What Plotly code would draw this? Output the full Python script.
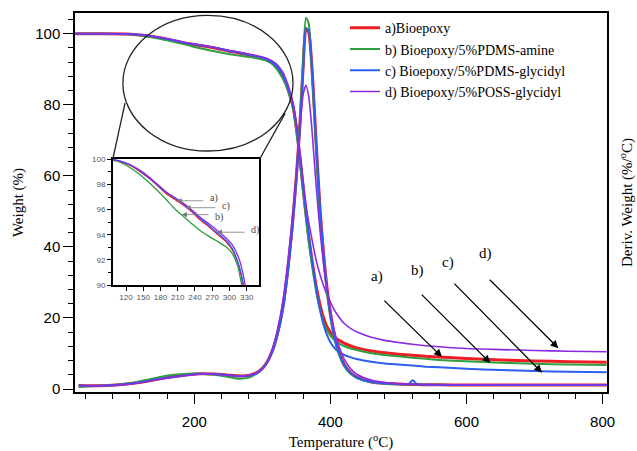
import plotly.graph_objects as go

# ---------------- data ----------------
series_names = ["a)Bioepoxy", "b) Bioepoxy/5%PDMS-amine",
                "c) Bioepoxy/5%PDMS-glycidyl", "d) Bioepoxy/5%POSS-glycidyl"]

temp_tga = [25, 60, 100, 115, 130, 145, 160, 175, 190, 205, 220, 235, 250, 265, 280, 295,
            305, 315, 320, 325, 330, 335, 340, 345, 350, 355, 360,
            364, 368, 372, 376, 380, 385, 390, 395, 400, 405, 410,
            420, 430, 440, 460, 480, 500, 520, 540, 560,
            600, 650, 700, 750, 806]

tga_a = [100.0, 100.0, 99.95, 99.75, 99.45, 99.0, 98.5, 97.9, 97.25, 96.8, 96.35, 95.8, 95.15, 94.6, 94.0, 93.4,
         92.8, 91.7, 90.8, 89.6, 88.0, 85.8, 83.0, 79.5, 73.5, 65.5, 56.5,
         49.5, 43.0, 37.5, 32.5, 28.0, 23.5, 20.0, 17.5, 16.0, 14.8, 14.0,
         12.9, 12.1, 11.5, 10.7, 10.2, 9.8, 9.5, 9.2, 9.0,
         8.6, 8.2, 7.9, 7.7, 7.5]
tga_b = [100.0, 100.0, 99.9, 99.65, 99.25, 98.75, 98.15, 97.5, 96.8, 96.05, 95.45, 94.85, 94.3, 93.85, 93.45, 93.0,
         92.5, 91.4, 90.3, 89.0, 87.4, 85.3, 82.5, 79.0, 72.5, 64.0, 55.0,
         48.0, 41.5, 36.0, 31.0, 26.5, 22.0, 18.8, 16.5, 15.0, 13.9, 13.1,
         12.1, 11.4, 10.9, 10.1, 9.6, 9.2, 8.8, 8.5, 8.2,
         7.8, 7.4, 7.1, 6.9, 6.75]
tga_c = [100.0, 100.0, 99.95, 99.78, 99.5, 99.05, 98.55, 97.95, 97.35, 96.9, 96.45, 95.9, 95.25, 94.7, 94.1, 93.5,
         92.9, 91.8, 91.0, 89.9, 88.4, 86.3, 83.5, 80.0, 74.0, 66.0, 57.0,
         50.0, 43.5, 37.5, 32.0, 27.0, 22.0, 18.0, 15.2, 13.2, 11.8, 10.8,
         9.6, 8.9, 8.4, 7.7, 7.2, 6.9, 6.6, 6.3, 6.1,
         5.7, 5.35, 5.05, 4.85, 4.7]
tga_d = [100.0, 100.0, 99.95, 99.78, 99.5, 99.1, 98.6, 98.0, 97.4, 96.95, 96.5, 95.95, 95.35, 94.85, 94.3, 93.7,
         93.2, 92.3, 91.6, 90.6, 89.2, 87.0, 84.2, 80.5, 74.5, 67.0, 58.5,
         52.0, 47.0, 43.0, 39.0, 35.5, 32.0, 29.0, 26.5, 24.5, 22.5, 21.0,
         18.5, 17.0, 16.0, 14.6, 13.7, 13.1, 12.6, 12.2, 11.9,
         11.4, 11.1, 10.85, 10.65, 10.5]

temp_dtg = [30, 60, 85, 110, 130, 150, 170, 190, 210, 230,
            250, 265, 280, 295, 305, 315, 322, 330, 337, 344,
            350, 355, 360, 364, 368, 372, 376, 380, 385, 390,
            395, 400, 405, 410, 420, 430, 440, 460, 480, 500,
            515, 521, 527, 540, 580, 650, 720, 806]

dtg_a = [1.0, 0.9, 1.1, 1.6, 2.2, 2.9, 3.5, 4.0, 4.3, 4.2,
         3.9, 3.7, 3.8, 5.0, 7.0, 11.0, 15.5, 23.0, 33.0, 46.0,
         60.0, 74.0, 91.0, 101.5, 100.5, 93.0, 80.0, 66.0, 50.0, 38.0,
         28.5, 21.5, 16.0, 12.0, 7.0, 4.5, 3.2, 2.0, 1.6, 1.4,
         1.3, 1.3, 1.25, 1.2, 1.15, 1.1, 1.1, 1.1]
dtg_b = [0.6, 0.9, 1.2, 1.8, 2.6, 3.4, 4.0, 4.3, 4.3, 4.0,
         3.4, 2.9, 3.2, 4.8, 7.0, 11.0, 15.5, 23.0, 33.0, 46.0,
         60.0, 75.0, 93.0, 104.5, 103.0, 92.0, 78.0, 64.0, 48.0, 36.0,
         27.0, 20.0, 15.0, 11.2, 6.5, 4.2, 3.0, 1.9, 1.5, 1.35,
         1.3, 1.3, 1.25, 1.2, 1.15, 1.1, 1.1, 1.1]
dtg_c = [1.0, 0.9, 1.1, 1.6, 2.2, 2.9, 3.4, 3.9, 4.3, 4.2,
         3.9, 3.6, 3.7, 4.8, 6.8, 10.5, 15.0, 22.0, 32.0, 45.0,
         59.0, 73.0, 90.0, 101.5, 101.0, 93.0, 80.0, 66.0, 50.0, 38.0,
         28.0, 21.0, 15.5, 11.5, 6.8, 4.4, 3.1, 2.0, 1.6, 1.4,
         1.4, 2.5, 1.4, 1.2, 1.15, 1.1, 1.1, 1.1]
dtg_d = [1.0, 0.9, 1.1, 1.5, 2.1, 2.8, 3.4, 3.9, 4.3, 4.2,
         3.9, 3.6, 3.8, 5.0, 7.0, 11.5, 16.5, 24.5, 35.0, 48.0,
         61.0, 73.0, 83.0, 85.5, 82.5, 75.0, 65.0, 55.0, 44.0, 35.0,
         28.0, 22.0, 17.0, 13.5, 8.5, 5.6, 4.0, 2.5, 1.8, 1.5,
         1.35, 1.3, 1.3, 1.25, 1.2, 1.15, 1.15, 1.15]

x_tickvals = [200, 400, 600, 800]
y_tickvals = [0, 20, 40, 60, 80, 100]
inset_x_ticks = [120, 150, 180, 210, 240, 270, 300, 330]
inset_y_ticks = [90, 92, 94, 96, 98, 100]

# main-chart arrow labels: (label, text_T, text_W, tail_T, tail_W, head_T, head_W)
main_arrows = [("a)", 469, 28.6, 477, 25.3, 564, 9.0),
               ("b)", 528, 30.3, 532, 27.0, 635, 7.3),
               ("c)", 573, 32.8, 580, 30.1, 711, 4.6),
               ("d)", 628, 35.1, 632, 31.2, 735, 11.5)]
# inset arrow labels
inset_arrows = [("a)", 263, 96.9, 257, 96.7, 208, 96.7),
                ("c)", 283, 96.3, 278, 96.15, 223, 96.15),
                ("b)", 272, 95.4, 266, 95.6, 217, 95.6),
                ("d)", 334, 94.4, 329, 94.2, 278, 94.2)]

colors = ["#ee1c25", "#2e9e3e", "#2c5ff0", "#8a2be2"]
widths = [3.0, 2.0, 2.0, 1.6]

tgas = [tga_a, tga_b, tga_c, tga_d]
dtgs = [dtg_a, dtg_b, dtg_c, dtg_d]

SERIF = "Liberation Serif"
SANS = "Liberation Sans"

fig = go.Figure()

for i in range(4):
    fig.add_trace(go.Scatter(x=temp_tga, y=tgas[i], mode="lines", name=series_names[i],
                             line=dict(color=colors[i], width=widths[i], shape="spline", smoothing=0.6),
                             legendgroup=str(i), showlegend=True, xaxis="x", yaxis="y"))
for i in range(4):
    fig.add_trace(go.Scatter(x=temp_dtg, y=dtgs[i], mode="lines", name=series_names[i],
                             line=dict(color=colors[i], width=widths[i], shape="spline", smoothing=0.6),
                             legendgroup=str(i), showlegend=False, xaxis="x", yaxis="y2"))
# inset
for i in range(4):
    fig.add_trace(go.Scatter(x=temp_tga, y=tgas[i], mode="lines", name=series_names[i],
                             line=dict(color=colors[i], width=1.3, shape="spline", smoothing=0.6),
                             legendgroup=str(i), showlegend=False, xaxis="x2", yaxis="y3"))

YR = [-0.84, 105.85]
XR = [24.6, 806.5]

fig.update_layout(
    width=637, height=451,
    margin=dict(l=75, r=30, t=13, b=59),
    paper_bgcolor="white", plot_bgcolor="white",
    font=dict(family=SANS, color="black"),
    showlegend=True,
    legend=dict(x=0.5075, y=1.002, xanchor="left", yanchor="top",
                font=dict(family=SERIF, size=14, color="black"),
                bgcolor="rgba(0,0,0,0)", tracegroupgap=0, itemwidth=30),
    xaxis=dict(range=XR, domain=[0, 1], anchor="y", tickvals=x_tickvals, automargin=False,
               showline=True, linecolor="black", linewidth=1.5, mirror=True,
               ticks="outside", ticklen=10, tickwidth=1.2, tickcolor="black",
               minor=dict(dtick=40, tick0=0, ticks="outside", ticklen=5, tickwidth=1.2, tickcolor="black", showgrid=False),
               showgrid=False, zeroline=False, ticklabelstandoff=5,
               tickfont=dict(family=SANS, size=15, color="black"),
               title=dict(text="Temperature (<sup>o</sup>C)", font=dict(family=SERIF, size=15, color="black"), standoff=8)),
    yaxis=dict(range=YR, domain=[0, 1], anchor="x", tickvals=y_tickvals, automargin=False,
               showline=True, linecolor="black", linewidth=1.5, mirror=True,
               ticks="outside", ticklen=10, tickwidth=1.2, tickcolor="black",
               minor=dict(dtick=4, tick0=0, ticks="outside", ticklen=5, tickwidth=1.2, tickcolor="black", showgrid=False),
               showgrid=False, zeroline=False,
               tickfont=dict(family=SANS, size=15, color="black"),
               title=dict(text="Weight (%)", font=dict(family=SERIF, size=15, color="black"), standoff=8)),
    yaxis2=dict(range=YR, overlaying="y", side="right", anchor="x", automargin=False,
                showline=False, showticklabels=False, ticks="", showgrid=False, zeroline=False,
                title=dict(text="Deriv. Weight (%/<sup>o</sup>C)", font=dict(family=SERIF, size=15, color="black"), standoff=14)),
    xaxis2=dict(range=[96.8, 352], domain=[0.0709, 0.3464], anchor="y3", tickvals=inset_x_ticks, automargin=False,
                showline=True, linecolor="black", linewidth=1.5, mirror=True,
                ticks="outside", ticklen=4, tickwidth=1, tickcolor="black",
                showgrid=False, zeroline=False,
                tickfont=dict(family=SANS, size=8, color="#555555")),
    yaxis3=dict(range=[90, 100], domain=[0.2823, 0.614], anchor="x2", tickvals=inset_y_ticks, automargin=False,
                showline=True, linecolor="black", linewidth=1.5, mirror=True,
                ticks="outside", ticklen=4, tickwidth=1, tickcolor="black",
                minor=dict(dtick=1, tick0=0, ticks="outside", ticklen=2.5, tickwidth=1, tickcolor="black", showgrid=False),
                showgrid=False, zeroline=False,
                tickfont=dict(family=SANS, size=8, color="#555555")),
)

# zoom ellipse and connectors
fig.add_shape(type="circle", xref="x", yref="y", x0=95, x1=345, y0=67, y1=105.2,
              line=dict(color="#222222", width=1.3), layer="above")
fig.add_shape(type="line", xref="x", yref="y", x0=80.0, y0=64.6, x1=98.1, y1=80.5,
              line=dict(color="#222222", width=1.3))
fig.add_shape(type="line", xref="x", yref="y", x0=295.6, y0=64.6, x1=333.4, y1=77.6,
              line=dict(color="#222222", width=1.3))

for lab, tx, ty, sx, sy, hx, hy in main_arrows:
    fig.add_annotation(x=tx, y=ty, xref="x", yref="y", text=lab, showarrow=False,
                       font=dict(family=SERIF, size=15, color="black"), yanchor="bottom")
    fig.add_annotation(x=hx, y=hy, ax=sx, ay=sy, xref="x", yref="y", axref="x", ayref="y",
                       text="", showarrow=True, arrowhead=2, arrowsize=1.2, arrowwidth=1.3, arrowcolor="black")

for lab, tx, ty, sx, sy, hx, hy in inset_arrows:
    fig.add_annotation(x=tx, y=ty, xref="x2", yref="y3", text=lab, showarrow=False,
                       font=dict(family=SERIF, size=10, color="#444444"), xanchor="left")
    fig.add_annotation(x=hx, y=hy, ax=sx, ay=sy, xref="x2", yref="y3", axref="x2", ayref="y3",
                       text="", showarrow=True, arrowhead=2, arrowsize=1.3, arrowwidth=0.8, arrowcolor="#777777")

fig.write_html("out.html")
